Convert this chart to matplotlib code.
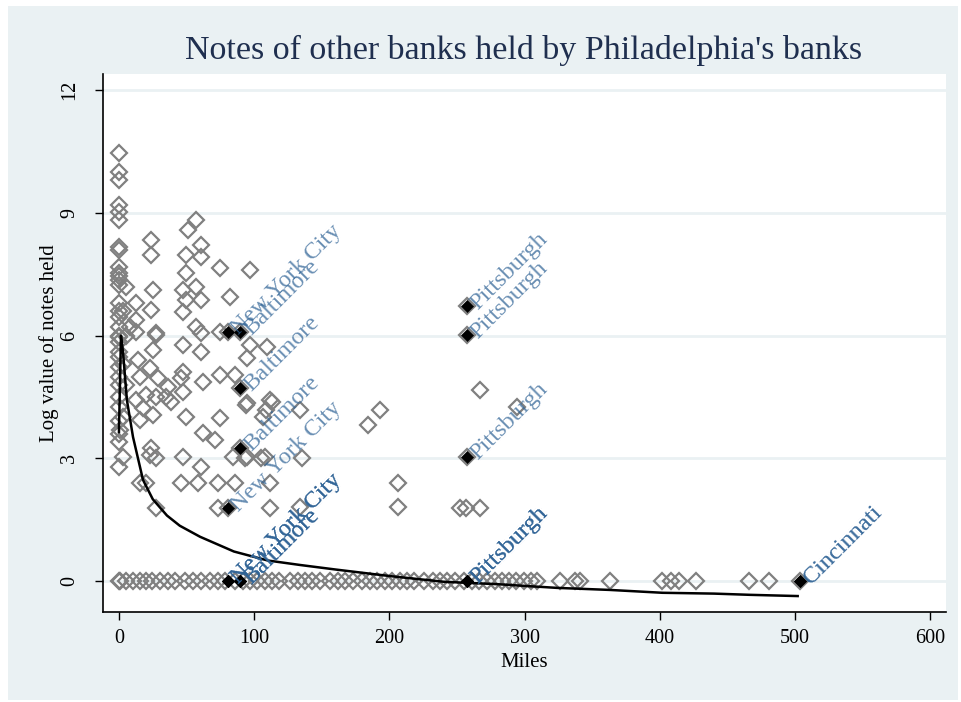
import matplotlib.pyplot as plt
from matplotlib.patches import Rectangle

# gray hollow diamonds: all banks (miles, log value of notes held)
miles_all = [0, 0, 0, 0, 0, 0, 0, 0, 0, 0, 0, 0, 0, 0, 0, 0, 0, 0, 0, 0, 0,
             0, 0, 0, 0, 0, 0, 0, 0, 0, 0,
             5.2, 0.7, 3.0, 12.6, 12.6, 8.1, 12.6, 14.1, 22.9, 15.5, 28.8, 20.0,
             12.6, 27.4, 17.8, 25.1, 15.5, 23.9, 22.9, 27.4, 15.5, 20.0, 27.4,
             25.1, 27.4, 23.7, 23.7, 25.1, 23.7, 27.4, 3.0, 5.2, 3.0, 5.2, 3.0,
             47.3, 60.7, 47.3, 45.9, 62.1, 74.7, 85.8, 36.2, 47.3, 34.8, 38.5,
             49.6, 74.7, 93.9, 111.7, 108.7, 62.1, 71.0, 47.3, 84.3, 93.2, 105.0,
             60.7, 45.9, 58.4, 73.2, 85.8, 73.2, 111.7,
             51.0, 57.0, 60.7, 49.6, 60.7, 49.6, 74.7, 96.9, 47.3, 57.0, 60.7,
             49.6, 47.3, 82.1, 57.0, 60.7, 74.7,
             96.9, 109.5, 94.7, 94.7, 113.2, 133.9, 106.5, 193.0, 184.2, 267.0,
             294.4, 94.7, 108.0, 135.4, 111.7, 206.4, 133.9, 206.4, 252.2, 256.7,
             267.0,
             80.6, 89.5, 89.5, 89.5, 80.6, 257.4, 257.4, 257.4, 503.7]
logval_all = [10.46, 10.0, 9.80, 9.19, 9.02, 8.82, 8.16, 8.09, 7.67, 7.53, 7.36,
              6.79, 6.45, 6.21, 5.96, 5.47, 5.23, 4.50, 4.25, 3.40, 2.79,
              7.45, 7.25, 6.6, 6.0, 5.85, 5.6, 5.0, 4.8, 3.6, 3.9,
              7.18, 3.69, 3.03, 6.79, 6.38, 6.21, 6.09, 5.40, 5.21, 4.99, 4.96, 4.55,
              4.42, 4.50, 4.23, 4.06, 3.93, 3.25, 3.08, 3.01, 2.39, 2.39, 1.78,
              5.65, 6.01, 8.33, 7.97, 7.11, 6.62, 6.06, 6.6, 6.0, 5.3, 4.8, 4.0,
              5.77, 5.60, 5.11, 4.96, 4.86, 5.03, 5.03, 4.74, 4.62, 4.50, 4.37,
              4.01, 3.98, 4.30, 4.42, 4.18, 3.62, 3.45, 3.03, 3.03, 3.01, 3.01,
              2.79, 2.39, 2.39, 2.39, 2.39, 1.78, 1.78,
              8.58, 8.82, 8.21, 7.97, 7.92, 7.53, 7.65, 7.60, 7.11, 7.18, 6.87,
              6.87, 6.57, 6.94, 6.21, 6.06, 6.09,
              5.77, 5.72, 5.45, 4.35, 4.37, 4.18, 4.01, 4.18, 3.81, 4.67,
              4.25, 3.03, 3.03, 3.01, 2.39, 2.39, 1.81, 1.81, 1.78, 1.78,
              1.78,
              6.09, 6.09, 4.72, 3.25, 1.78, 6.72, 6.01, 3.03, 0]

# banks holding none of the notes (log value 0)
miles_zero = [0, 0.7, 5.2, 10.4, 15.5, 20.0, 24.4, 30.3, 36.2, 41.4, 48.8, 54.7,
              60.7, 67.3, 73.2, 78.4, 85.8, 91.7, 96.9, 102.1, 108.0, 113.2,
              118.3, 126.5, 132.4, 137.6, 142.8, 148.7, 156.1, 162.0, 167.2,
              173.1, 179.7, 185.7, 190.8, 196.7, 201.9, 207.8, 213.0, 218.2,
              225.6, 232.2, 237.4, 242.6, 248.5, 255.2, 261.1, 266.3, 272.2,
              278.1, 283.3, 288.5, 293.7, 299.6, 304.7, 309.0, 326.2, 337.3,
              341.0, 363.2, 401.6, 408.5, 414.5, 427.0, 466.0, 481.0]

# labelled banks (black diamonds)
city_names = ["New York City", "Baltimore", "Baltimore", "Baltimore", "New York City",
              "Pittsburgh", "Pittsburgh", "Pittsburgh",
              "New York City", "New York City", "New York City",
              "Baltimore", "Baltimore", "Baltimore",
              "Pittsburgh", "Pittsburgh", "Pittsburgh",
              "Cincinnati", "Cincinnati"]
city_miles = [80.6, 89.5, 89.5, 89.5, 80.6, 257.4, 257.4, 257.4,
              80.6, 80.6, 80.6, 89.5, 89.5, 89.5, 257.4, 257.4, 257.4, 503.7, 503.7]
city_logval = [6.09, 6.09, 4.72, 3.25, 1.78, 6.72, 6.01, 3.03,
               0, 0, 0, 0, 0, 0, 0, 0, 0, 0, 0]

# fitted line
fit_miles = [0, 1.5, 3.0, 5.9, 10.4, 17.8, 25, 35.5, 45, 60, 85, 110, 134, 160,
             200, 240, 280, 324, 363, 402, 440, 466.7, 502]
fit_logval = [3.64, 6.0, 5.6, 4.42, 3.52, 2.47, 2.0, 1.6, 1.35, 1.08, 0.72, 0.5,
              0.39, 0.28, 0.12, -0.02, -0.08, -0.17, -0.22, -0.29, -0.31, -0.34,
              -0.37]

bg = '#eaf1f3'
gray = '#808080'
serif = ['Liberation Serif', 'DejaVu Serif']
plt.rcParams['font.family'] = serif

fig = plt.figure(figsize=(9.61, 7.02), dpi=100, facecolor='white')
fig.patches.append(Rectangle((8 / 961, 2 / 702), 950 / 961, 694 / 702,
                             transform=fig.transFigure, facecolor=bg,
                             edgecolor='none', zorder=-10))
ax = fig.add_axes([103 / 961, 1 - 612 / 702, 843 / 961, 538 / 702])
ax.set_facecolor('white')

for yv in [0, 3, 6, 9, 12]:
    ax.axhline(yv, color=bg, lw=2, zorder=0)

ax.plot(miles_all, logval_all, 'D', ms=8, mfc='none', mec=gray, mew=1.6, zorder=2)
ax.plot(miles_zero, [0] * len(miles_zero), 'D', ms=8, mfc='none', mec=gray,
        mew=1.6, zorder=2)
ax.plot(fit_miles, fit_logval, color='black', lw=1.8, zorder=3)
ax.plot(city_miles, city_logval, 'D', ms=6, mfc='black', mec='black', mew=0.5, zorder=4)

for name, xm, yv in zip(city_names, city_miles, city_logval):
    ax.annotate(name, (xm, yv), xytext=(5, 0), textcoords='offset points',
                rotation=45, rotation_mode='anchor', ha='left', va='center',
                fontsize=17.5, color='#2f6396', alpha=0.72, zorder=5)

ax.set_xlim(-11.8, 611.7)
ax.set_ylim(-0.76, 12.4)
ax.set_xticks([0, 100, 200, 300, 400, 500, 600])
ax.set_yticks([0, 3, 6, 9, 12])
ax.tick_params(axis='both', direction='out', length=6, width=1, labelsize=14.5,
               colors='black')
ax.tick_params(axis='y', pad=11)
ax.tick_params(axis='x', pad=6)
for lbl in ax.get_yticklabels():
    lbl.set_rotation(90)
    lbl.set_va('center')
for s in ['top', 'right']:
    ax.spines[s].set_visible(False)
ax.spines['left'].set_linewidth(1.2)
ax.spines['bottom'].set_linewidth(1.2)

ax.set_xlabel('Miles', fontsize=15, labelpad=4)
ax.set_ylabel('Log value of notes held', fontsize=15, labelpad=1)
fig.text(524 / 961, 1 - 50 / 702, "Notes of other banks held by Philadelphia's banks",
         ha='center', va='center', fontsize=24.5, color='#1f2f4f')

fig.savefig('out.png', dpi=100, facecolor='white')
